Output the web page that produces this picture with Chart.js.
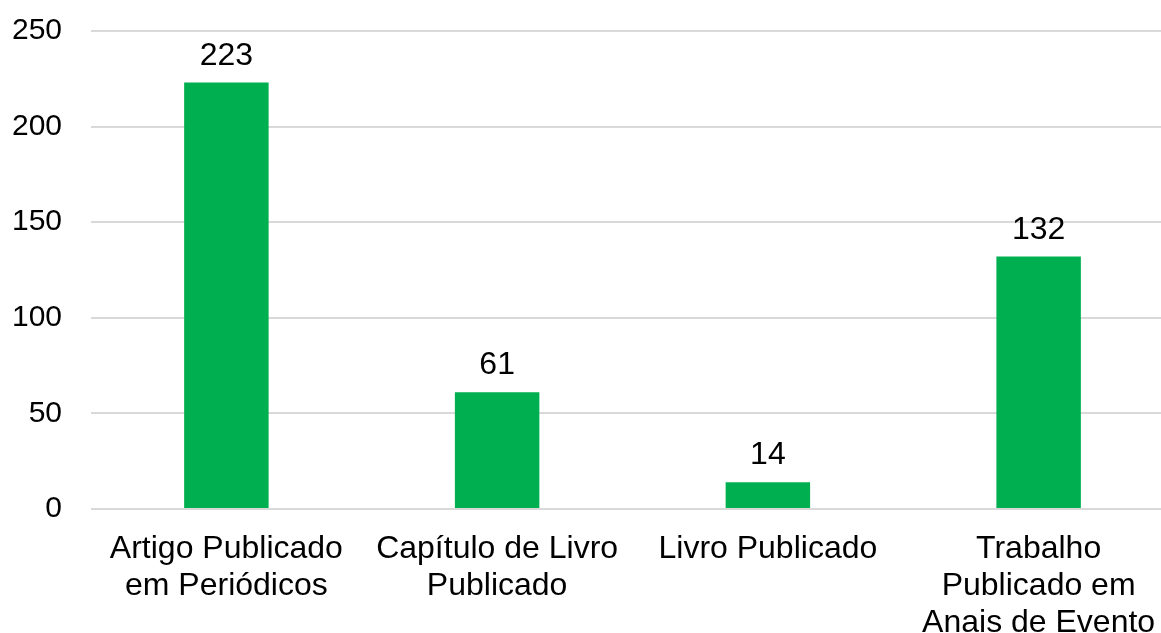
<!DOCTYPE html>
<html>
<head>
<meta charset="utf-8">
<script src="https://cdn.jsdelivr.net/npm/chart.js@4/dist/chart.umd.min.js"></script>
<style>
  html, body { margin: 0; padding: 0; background: #fff; overflow: hidden; }
  #wrap { position: relative; width: 1174px; height: 633px; }
</style>
</head>
<body>
<div id="wrap"><canvas id="c"></canvas></div>
<script>
const categories = [
  ["Artigo Publicado", "em Periódicos"],
  ["Capítulo de Livro", "Publicado"],
  ["Livro Publicado"],
  ["Trabalho", "Publicado em", "Anais de Evento"]
];
const values = [223, 61, 14, 132];
const yTicks = [0, 50, 100, 150, 200, 250];

const FONT = "'Liberation Sans', Arial, sans-serif";

const dataLabels = {
  id: 'dataLabels',
  afterDatasetsDraw(chart) {
    const ctx = chart.ctx;
    ctx.save();
    ctx.font = "32px " + FONT;
    ctx.fillStyle = "#000";
    ctx.textAlign = "center";
    ctx.textBaseline = "alphabetic";
    chart.getDatasetMeta(0).data.forEach((bar, i) => {
      ctx.fillText(String(values[i]), bar.x, bar.y - 18);
    });
    ctx.restore();
  }
};

new Chart(document.getElementById('c'), {
  type: 'bar',
  data: {
    labels: categories,
    datasets: [{
      data: values,
      backgroundColor: '#00b050',
      borderWidth: 0,
      barPercentage: 0.312,
      categoryPercentage: 1
    }]
  },
  options: {
    responsive: true,
    maintainAspectRatio: false,
    animation: false,
    layout: { padding: { left: 12, top: 31, right: 0, bottom: 0 } },
    plugins: { legend: { display: false }, tooltip: { enabled: false } },
    scales: {
      x: {
        grid: { display: false, drawTicks: false },
        border: { display: false },
        afterFit(scale) { scale.height = 124; scale.paddingLeft = 0; scale.paddingRight = 0; },
        ticks: {
          color: '#000',
          font: { family: FONT, size: 32, lineHeight: 1.15 },
          padding: 22,
          maxRotation: 0,
          autoSkip: false
        }
      },
      y: {
        min: 0,
        max: 250,
        afterBuildTicks(scale) { scale.ticks = yTicks.map(v => ({ value: v })); },
        afterFit(scale) { scale.width = 79; scale.paddingTop = 0; scale.paddingBottom = 0; },
        grid: { color: '#d9d9d9', lineWidth: 2, drawTicks: false },
        border: { display: false },
        ticks: {
          color: '#000',
          font: { family: FONT, size: 30 },
          padding: 29
        }
      }
    }
  },
  plugins: [dataLabels]
});
</script>
</body>
</html>
